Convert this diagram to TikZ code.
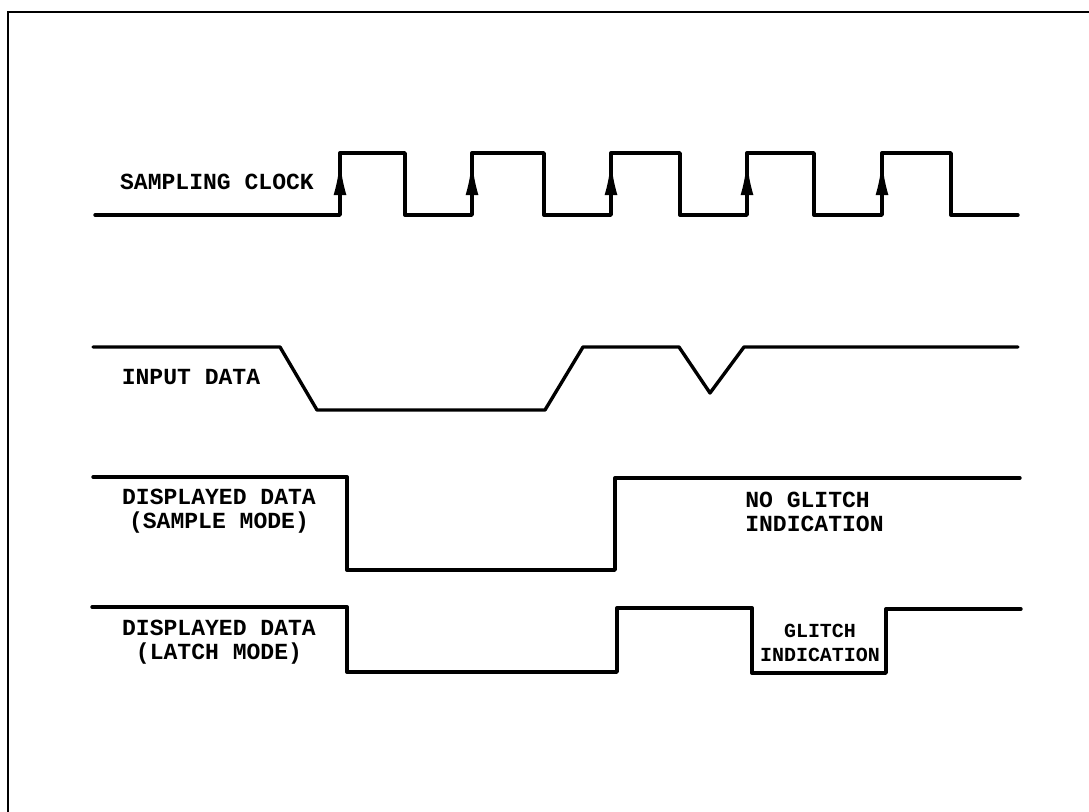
\documentclass[tikz,border=0pt]{standalone}
\usepackage{fontspec}
\newfontfamily\typewriter{Liberation Mono}
\usetikzlibrary{arrows.meta}

\begin{document}
\begin{tikzpicture}[
  x=0.25mm, y=-0.25mm,
  sig/.style={line width=2.4pt, line join=round, line cap=round},
  frame/.style={line width=2pt},
  edgearrow/.style={-{Latex[length=8.5mm, width=3.2mm]}, line width=2.4pt},
  lbl/.style={font=\typewriter\bfseries\fontsize{16.4}{17.5}\selectfont, align=center, inner sep=0pt},
  small/.style={lbl, font=\typewriter\bfseries\fontsize{14.2}{17.5}\selectfont},
]
\useasboundingbox (0,0) rectangle (1089,812);

% === Frame ===
\draw[frame] (8,812) -- (8,12) -- (1089,12);

% === Sampling clock ===
\node[lbl] (clk) at (217,182) {SAMPLING CLOCK};
\draw[sig] (95,215) -- (340,215) -- (340,153) -- (405,153) -- (405,215)
  -- (472,215) -- (472,153) -- (544,153) -- (544,215)
  -- (611,215) -- (611,153) -- (680,153) -- (680,215)
  -- (747,215) -- (747,153) -- (814,153) -- (814,215)
  -- (882,215) -- (882,153) -- (951,153) -- (951,215) -- (1018,215);
\foreach \x in {340,472,611,747,882}
  \draw[edgearrow] (\x,215) -- (\x,161);

% === Input data ===
\node[lbl] (in) at (191,377) {INPUT DATA};
\draw[sig] (93,347) -- (280,347) -- (317,410) -- (545,410) -- (583,347)
  -- (679,347) -- (710,393) -- (744,347) -- (1018,347);

% === Displayed data, sample mode ===
\node[lbl] (smp) at (219,511) {DISPLAYED DATA\\(SAMPLE MODE)};
\draw[sig] (93,477) -- (347,477) -- (347,570) -- (615,570) -- (615,478) -- (1020,478);
\node[lbl, align=left, anchor=west] (noglitch) at (745,512) {NO GLITCH\\INDICATION};

% === Displayed data, latch mode ===
\node[lbl] (ltc) at (219,642) {DISPLAYED DATA\\(LATCH MODE)};
\draw[sig] (92,607) -- (347,607) -- (347,672) -- (617,672) -- (617,608)
  -- (752,608) -- (752,673) -- (886,673) -- (886,609) -- (1021,609);
\node[small] (glitch) at (820,643) {GLITCH\\INDICATION};

\end{tikzpicture}
\end{document}
